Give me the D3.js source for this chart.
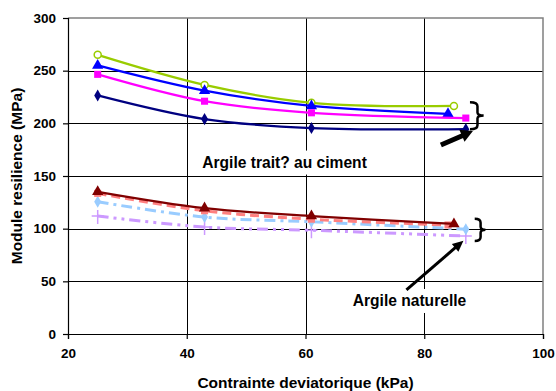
<!DOCTYPE html>
<html>
<head>
<meta charset="utf-8">
<script src="https://cdn.jsdelivr.net/npm/d3@7"></script>
<style>
  body { margin: 0; background: white; }
  text { font-family: "Liberation Sans", Arial, sans-serif; font-weight: bold; }
</style>
</head>
<body>
<div id="chart"></div>
<script>
const xTicks = [20, 40, 60, 80, 100]
const yTicks = [0, 50, 100, 150, 200, 250, 300]

// argile traitée au ciment
const xVert = [25, 43, 61, 85]
const yVert = [265, 236.5, 219.5, 216.5]
const xBleu = [25, 43, 61, 84]
const yBleu = [255, 231, 216.5, 209]
const xRose = [25, 43, 61, 87]
const yRose = [246.5, 221, 210, 205]
const xMarine = [25, 43, 61, 87]
const yMarine = [226.5, 204, 195.5, 194.5]

// argile naturelle
const xBordeaux = [25, 43, 61, 85]
const yBordeaux = [135, 119.5, 112, 104.5]
const xSaumon = [25, 43, 61, 84]
const ySaumon = [133.5, 117, 109, 103.5]
const xCiel = [25, 43, 61, 87]
const yCiel = [125.5, 111, 106.5, 99.5]
const xLilas = [25, 43, 61, 87]
const yLilas = [112, 101.5, 98.5, 93]

const width = 556
const height = 391
const plotLeft = 68, plotRight = 543, plotTop = 18, plotBottom = 334

const xScale = d3.scaleLinear().domain([20, 100]).range([plotLeft, plotRight])
const yScale = d3.scaleLinear().domain([0, 300]).range([plotBottom, plotTop])

const svg = d3.select('#chart').append('svg')
    .attr('width', width)
    .attr('height', height)

svg.append('rect')
    .attr('width', width)
    .attr('height', height)
    .attr('fill', 'white')

// grille
svg.append('g')
    .attr('transform', 'translate(0,' + plotBottom + ')')
    .call(d3.axisBottom(xScale).tickValues(xTicks.slice(1, -1)).tickSize(-(plotBottom - plotTop)).tickFormat(''))
    .call(g => g.select('.domain').remove())
    .call(g => g.selectAll('line').attr('stroke', '#000').attr('shape-rendering', 'crispEdges'))
svg.append('g')
    .attr('transform', 'translate(' + plotLeft + ',0)')
    .call(d3.axisLeft(yScale).tickValues(yTicks.slice(1, -1)).tickSize(-(plotRight - plotLeft)).tickFormat(''))
    .call(g => g.select('.domain').remove())
    .call(g => g.selectAll('line').attr('stroke', '#000').attr('shape-rendering', 'crispEdges'))

// bord du graphique
svg.append('path')
    .attr('d', 'M' + plotLeft + ',' + plotTop + 'H' + plotRight + 'V' + plotBottom)
    .attr('fill', 'none')
    .attr('stroke', '#808080')
    .attr('stroke-width', 1.5)

const series = [
    { x: xVert, y: yVert, color: '#99CC00', dash: null, sym: 'circle' },
    { x: xBleu, y: yBleu, color: '#0000FF', dash: null, sym: 'triangle' },
    { x: xRose, y: yRose, color: '#FF00FF', dash: null, sym: 'square' },
    { x: xMarine, y: yMarine, color: '#000080', dash: null, sym: 'diamond' },
    { x: xLilas, y: yLilas, color: '#CC99FF', dash: '11,5,3,5,3,5', sym: 'plus' },
    { x: xCiel, y: yCiel, color: '#99CCFF', dash: '11,5,3,5', sym: 'diamond' },
    { x: xSaumon, y: ySaumon, color: '#FF8080', dash: '9,5', sym: 'square' },
    { x: xBordeaux, y: yBordeaux, color: '#800000', dash: null, sym: 'triangle' }
]

const valueline = d3.line()
    .x(function(d) { return xScale(d[0]) })
    .y(function(d) { return yScale(d[1]) })
    .curve(d3.curveCatmullRom.alpha(0.5))

const lines = svg.append('g')
series.forEach(function(s) {
    const pts = s.x.map(function(v, i) { return [v, s.y[i]] })
    lines.append('path')
        .datum(pts)
        .attr('d', valueline)
        .attr('fill', 'none')
        .attr('stroke', s.color)
        .attr('stroke-width', s.dash ? 3 : 2.25)
        .attr('stroke-dasharray', s.dash)

    const g = lines.append('g')
    pts.forEach(function(p) {
        const cx = xScale(p[0]), cy = yScale(p[1])
        if (s.sym === 'circle') {
            g.append('circle').attr('cx', cx).attr('cy', cy).attr('r', 3.5)
                .attr('fill', 'white').attr('stroke', s.color).attr('stroke-width', 1.5)
        } else if (s.sym === 'plus') {
            g.append('path').attr('transform', 'translate(' + cx + ',' + cy + ')')
                .attr('d', 'M-6,0H6M0,-6V8')
                .attr('stroke', s.color).attr('stroke-width', 1.5)
        } else {
            const type = { triangle: d3.symbolTriangle, square: d3.symbolSquare, diamond: d3.symbolDiamond }[s.sym]
            const size = { triangle: 55, square: 50, diamond: 42 }[s.sym]
            g.append('path').attr('transform', 'translate(' + cx + ',' + cy + ')')
                .attr('d', d3.symbol().type(type).size(size)())
                .attr('fill', s.color)
        }
    })
})

// axes
svg.append('g')
    .attr('transform', 'translate(' + plotLeft + ',0)')
    .call(d3.axisLeft(yScale).tickValues(yTicks).tickSize(5).tickPadding(7))
    .call(g => g.selectAll('path, line').attr('stroke', '#000').attr('stroke-width', 1.2))
    .call(g => g.selectAll('text').attr('font-size', 13.5).attr('fill', '#000')
        .attr('font-family', '"Liberation Sans", Arial, sans-serif'))
svg.append('g')
    .attr('transform', 'translate(0,' + plotBottom + ')')
    .call(d3.axisBottom(xScale).tickValues(xTicks).tickSize(5).tickPadding(9))
    .call(g => g.selectAll('path, line').attr('stroke', '#000').attr('stroke-width', 1.2))
    .call(g => g.selectAll('text').attr('font-size', 13.5).attr('fill', '#000')
        .attr('font-family', '"Liberation Sans", Arial, sans-serif'))

svg.append('text')
    .attr('x', (plotLeft + plotRight) / 2)
    .attr('y', 388)
    .attr('text-anchor', 'middle')
    .attr('font-size', 15.5)
    .text('Contrainte deviatorique (kPa)')
svg.append('text')
    .attr('transform', 'translate(22,' + ((plotTop + plotBottom) / 2) + ') rotate(-90)')
    .attr('text-anchor', 'middle')
    .attr('font-size', 15.5)
    .text('Module resilience (MPa)')

// annotations
function label(txt, x, y) {
    const t = svg.append('text')
        .attr('x', xScale(x))
        .attr('y', yScale(y))
        .attr('font-size', 15.6)
        .text(txt)
    const b = t.node().getBBox()
    svg.insert('rect', function() { return t.node() })
        .attr('x', b.x - 5)
        .attr('y', b.y - 3)
        .attr('width', b.width + 10)
        .attr('height', b.height + 7)
        .attr('fill', 'white')
}
label('Argile trait? au ciment', 42.6, 158)
label('Argile naturelle', 67.95, 26.6)

function arrow(x0, y0, x1, y1, w, hl, hw) {
    const ax = xScale(x0), ay = yScale(y0), bx = xScale(x1), by = yScale(y1)
    const len = Math.hypot(bx - ax, by - ay)
    const ux = (bx - ax) / len, uy = (by - ay) / len
    const px = -uy, py = ux
    const cx = bx - ux * hl, cy = by - uy * hl
    svg.append('line')
        .attr('x1', ax).attr('y1', ay).attr('x2', cx + ux).attr('y2', cy + uy)
        .attr('stroke', '#000').attr('stroke-width', w)
    svg.append('path')
        .attr('d', 'M' + bx + ',' + by + 'L' + (cx + px * hw / 2) + ',' + (cy + py * hw / 2) +
            'L' + (cx - px * hw / 2) + ',' + (cy - py * hw / 2) + 'Z')
        .attr('fill', '#000')
}
arrow(82.8, 179.4, 88.2, 192.7, 5, 12, 13)
arrow(77.0, 41.8, 86.6, 88.6, 3, 11, 10)

function brace(x0, x1, y0, y1, ym) {
    const a = xScale(x0), b = xScale(x1), m = a + (b - a) * 0.55
    const t = yScale(y0), u = yScale(y1), c = yScale(ym)
    svg.append('path')
        .attr('d', 'M' + a + ',' + t + 'Q' + m + ',' + t + ' ' + m + ',' + (t + 4) +
            'L' + m + ',' + (c - 3) + 'Q' + m + ',' + c + ' ' + b + ',' + c +
            'Q' + m + ',' + c + ' ' + m + ',' + (c + 3) +
            'L' + m + ',' + (u - 4) + 'Q' + m + ',' + u + ' ' + a + ',' + u)
        .attr('fill', 'none')
        .attr('stroke', '#000')
        .attr('stroke-width', 2.5)
}
brace(87.7, 90, 220, 194.5, 207.5)
brace(88.5, 90.3, 109.5, 88.3, 99)
</script>
</body>
</html>
